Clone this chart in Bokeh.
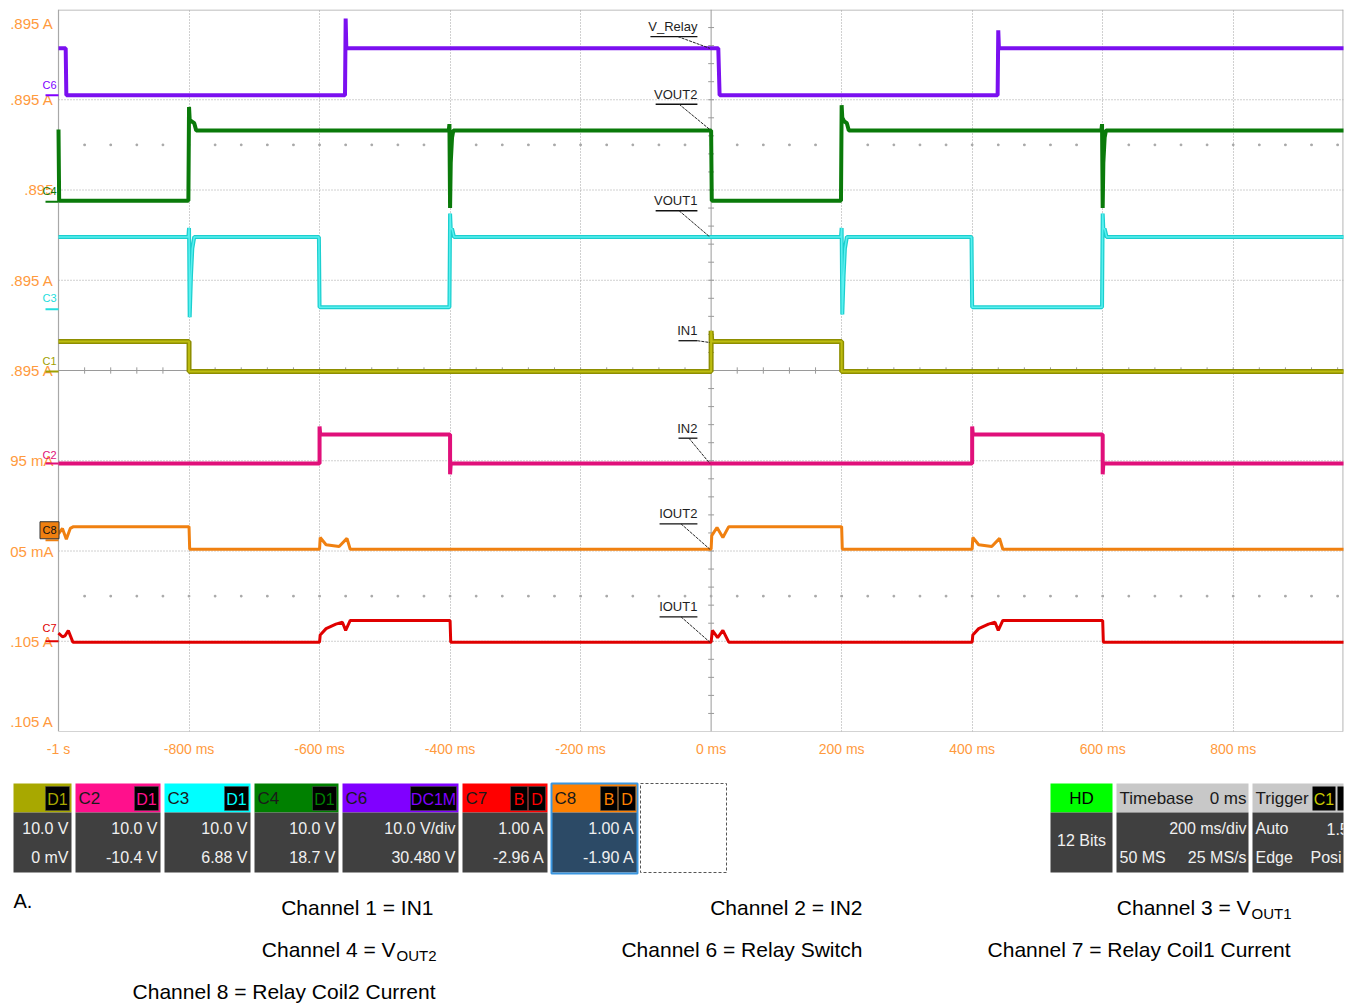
import numpy as np
from bokeh.plotting import figure
from bokeh.models import Range1d, FixedTicker
from bokeh.layouts import column
from bokeh.core.properties import value
from bokeh.embed import file_html
from bokeh.resources import INLINE

SANS = "Liberation Sans"
ORANGE_TXT = "#FF9A3D"

# ---------------- data (time in ms, level in divisions) ----------------
x_ticks = [-1000, -800, -600, -400, -200, 0, 200, 400, 600, 800]
x_tick_labels = ["-1 s", "-800 ms", "-600 ms", "-400 ms", "-200 ms", "0 ms",
                 "200 ms", "400 ms", "600 ms", "800 ms"]
y_ticks = [0, 1, 2, 3, 4, 5, 6, 7, 8]
y_tick_labels = [".105 A", ".105 A", "05 mA", "95 mA", ".895 A", ".895 A", ".895", ".895 A", ".895 A"]

# C6 - V_Relay
c6_t = [-1000, -989, -988, -561, -560, -559, 11, 13, 439, 440, 441, 970]
c6_v = [7.57, 7.57, 7.05, 7.05, 7.90, 7.57, 7.57, 7.05, 7.05, 7.77, 7.57, 7.57]
# C4 - VOUT2
c4_t = [-1000, -999, -801, -800, -799, -796, -792, -789, -402, -401, -400, -399, -397, -395,
        0, 1, 199, 200, 201, 204, 208, 211, 598, 599, 600, 601, 603, 605, 970]
c4_v = [6.67, 5.88, 5.88, 6.92, 6.78, 6.76, 6.74, 6.66, 6.66, 6.73, 5.80, 6.30, 6.58, 6.66,
        6.66, 5.88, 5.88, 6.94, 6.80, 6.76, 6.74, 6.66, 6.66, 6.73, 5.80, 6.30, 6.58, 6.66, 6.66]
# C3 - VOUT1
c3_t = [-1000, -801, -800, -799, -797, -795, -792, -601, -600, -401, -400, -399, -397, -394,
        199, 200, 201, 203, 205, 208, 399, 400, 599, 600, 601, 603, 606, 970]
c3_v = [5.48, 5.48, 5.58, 4.59, 5.05, 5.35, 5.48, 5.48, 4.70, 4.70, 5.74, 5.57, 5.57, 5.48,
        5.48, 5.58, 4.62, 5.05, 5.35, 5.48, 5.48, 4.70, 4.70, 5.74, 5.57, 5.57, 5.48, 5.48]
# C1 - IN1
c1_t = [-1000, -800, -800, 0, 0, 1, 200, 200, 970]
c1_v = [4.32, 4.32, 3.99, 3.99, 4.44, 4.32, 4.32, 3.99, 3.99]
# C2 - IN2
c2_t = [-1000, -600, -600, -599, -400, -400, -399, 400, 400, 401, 600, 600, 601, 970]
c2_v = [2.97, 2.97, 3.38, 3.29, 3.29, 2.85, 2.97, 2.97, 3.38, 3.29, 3.29, 2.85, 2.97, 2.97]
# C8 - IOUT2
c8_t = [-1000, -994, -988, -982, -977, -800, -799, -600, -599, -590, -570, -558, -553,
        0, 1, 9, 18, 27, 200, 201, 400, 401, 410, 430, 442, 447, 970]
c8_v = [2.19, 2.25, 2.13, 2.25, 2.27, 2.27, 2.02, 2.02, 2.15, 2.07, 2.05, 2.14, 2.02,
        2.02, 2.17, 2.26, 2.15, 2.27, 2.27, 2.02, 2.02, 2.15, 2.07, 2.05, 2.14, 2.02, 2.02]
# C7 - IOUT1
c7_t = [-1000, -994, -990, -985, -978, -600, -599, -590, -575, -565, -560, -553, -400, -399,
        0, 2, 10, 18, 27, 400, 401, 410, 425, 435, 440, 447, 600, 601, 970]
c7_v = [1.09, 1.05, 1.06, 1.12, 0.99, 0.99, 1.07, 1.14, 1.19, 1.21, 1.12, 1.23, 1.23, 0.99,
        0.99, 1.12, 1.04, 1.12, 0.99, 0.99, 1.07, 1.14, 1.19, 1.21, 1.12, 1.23, 1.23, 0.99, 0.99]

# trace annotations
ann_text = ["V_Relay", "VOUT2", "VOUT1", "IN1", "IN2", "IOUT2", "IOUT1"]
ann_target = [7.57, 6.67, 5.48, 4.31, 2.97, 2.02, 0.99]

# channel markers on the left
mk_text = ["C6", "C4", "C3", "C1", "C2", "C8", "C7"]
mk_level = [7.16, 5.99, 4.80, 4.10, 3.06, 2.23, 1.15]
mk_line = [7.05, 5.87, 4.68, 3.99, 2.97, 2.12, 1.00]
mk_color = ["#8000FF", "#0A7A0A", "#22DDDD", "#A0A000", "#E0107A", "#F08010", "#E00000"]

# bottom channel panels
pan_name = ["", "C2", "C3", "C4", "C6", "C7", "C8"]
pan_color = ["#A8A800", "#FF108C", "#00FFFF", "#008000", "#8000FF", "#FF0000", "#FF8000"]
pan_badges = [["D1"], ["D1"], ["D1"], ["D1"], ["DC1M"], ["B", "D"], ["B", "D"]]
pan_line1 = ["10.0 V", "10.0 V", "10.0 V", "10.0 V", "10.0 V/div", "1.00 A", "1.00 A"]
pan_line2 = ["0 mV", "-10.4 V", "6.88 V", "18.7 V", "30.480 V", "-2.96 A", "-1.90 A"]

captions = ["Channel 1 = IN1", "Channel 2 = IN2", "Channel 3 = V",
            "Channel 4 = V", "Channel 6 = Relay Switch", "Channel 7 = Relay Coil1 Current",
            "Channel 8 = Relay Coil2 Current"]
caption_subs = ["", "", "OUT1", "OUT2", "", "", ""]

# ---------------- main scope figure ----------------
PX = 0.6525  # px per ms
DIV = 90.25  # px per division
XL = -1000 - 58 / PX   # left edge of canvas area (room for y labels)
XR = 969

p = figure(width=1348, height=770, x_range=Range1d(XL, XR), y_range=Range1d(0, 8),
           y_axis_type=None, output_backend="svg", toolbar_location=None,
           min_border_left=0, min_border_right=5, min_border_top=9, min_border_bottom=39)
p.outline_line_color = None
p.background_fill_color = "white"
p.border_fill_color = "white"

p.xaxis.ticker = FixedTicker(ticks=x_ticks)
p.xaxis.major_label_overrides = dict(zip(x_ticks, x_tick_labels))
p.xaxis.axis_line_color = None
p.xaxis.major_tick_line_color = None
p.xaxis.minor_tick_line_color = None
p.xaxis.major_tick_out = 0
p.xaxis.major_tick_in = 0
p.xaxis.major_label_standoff = 9
p.xaxis.major_label_text_color = ORANGE_TXT
p.xaxis.major_label_text_font = SANS
p.xaxis.major_label_text_font_size = "14px"

grid_x = [t for t in x_ticks if t not in (-1000, 0)]
p.xgrid.ticker = FixedTicker(ticks=grid_x)
p.xgrid.grid_line_color = "#A0A0A0"
p.xgrid.grid_line_dash = "1 2"
grid_y = [1, 2, 3, 5, 6, 7]
p.segment(x0=-1000, y0=grid_y, x1=XR, y1=grid_y, line_color="#A0A0A0", line_dash="1 2",
          line_width=1, level="underlay")

# frame border
BC = "#A8A8A8"
p.segment(x0=[-1000, -1000, -1000, XR - 0.6], y0=[0, 0, 8 - 0.5 / DIV, 0],
          x1=[-1000, XR, XR, XR - 0.6], y1=[8, 0, 8 - 0.5 / DIV, 8],
          line_color=BC, line_width=1.2, level="underlay")

# center cross with ticks
p.segment(x0=[0, -1000], y0=[0, 4], x1=[0, XR], y1=[8, 4], line_color="#9A9A9A",
          line_width=1, level="underlay")
vt = np.arange(0.2, 8, 0.2)
p.segment(x0=-4.5, y0=vt, x1=4.5, y1=vt, line_color="#9A9A9A", line_width=1, level="underlay")
ht = np.arange(-960, 969, 40)
p.segment(x0=ht, y0=4 - 0.035, x1=ht, y1=4 + 0.035, line_color="#9A9A9A", line_width=1, level="underlay")
for yrow in (6.5, 1.5):
    p.scatter(ht, [yrow] * len(ht), size=1.6, marker="square", color="#A8A8A8", level="underlay")

# traces
p.line(c6_t, c6_v, line_color="#7B10F0", line_width=4)
p.line(c4_t, c4_v, line_color="#0A7A0A", line_width=4)
p.line(c3_t, c3_v, line_color="#1CCFCF", line_width=4)
p.line(c3_t, c3_v, line_color="#5AF0F0", line_width=1.5)
p.line(c1_t, c1_v, line_color="#8E8E00", line_width=5)
p.line(c1_t, c1_v, line_color="#BDBD10", line_width=2)
p.line(c2_t, c2_v, line_color="#E0107A", line_width=4)
p.line(c8_t, c8_v, line_color="#F08010", line_width=3)
p.line(c7_t, c7_v, line_color="#E00000", line_width=3)

# trace annotations (label + underline + leader line)
ann_right = [-21.0] * len(ann_text)
ann_left = [-93, -85, -85, -50, -50, -79, -79]
ann_under = [7.70, 6.95, 5.77, 4.33, 3.25, 2.30, 1.27]
ann_ty = [u + 10 / DIV for u in ann_under]
ann_lead = [-51, -49, -49, -21, -34, -46, -46]
p.text(x=ann_right, y=ann_ty, text=ann_text, text_align="right", text_baseline="middle",
       text_font=value(SANS), text_font_size=value("13px"), text_color="#1E1E1E")
p.segment(x0=ann_left, y0=ann_under, x1=ann_right, y1=ann_under, line_color="#111111", line_width=1.3)
p.segment(x0=ann_lead, y0=ann_under, x1=[-2] * len(ann_text), y1=ann_target,
          line_color="#222222", line_width=1, line_dash="3 1")

# y tick labels (left of the grid)
ylab_pos = [10 / DIV if v == 0 else (8 - 14 / DIV if v == 8 else v) for v in y_ticks]
p.text(x=[-1000 - 5 / PX] * len(y_ticks), y=ylab_pos, text=y_tick_labels, text_align="right",
       text_baseline="middle", text_font=value(SANS), text_font_size=value("15px"),
       text_color=ORANGE_TXT)

# channel markers
mk_x = -1000 - 9 / PX
p.segment(x0=-1000 - 13 / PX, y0=mk_line, x1=-1000, y1=mk_line, line_color=mk_color, line_width=2)
i8 = mk_text.index("C8")
p.rect(x=[mk_x], y=[mk_level[i8]], width=19 / PX, height=17 / DIV, fill_color=mk_color[i8],
       line_color="#333333", line_width=1)
p.text(x=[mk_x], y=[mk_level[i8]], text=["C8"], text_align="center", text_baseline="middle",
       text_font=value(SANS), text_font_size=value("11px"), text_color="#111111")
oth = [i for i in range(len(mk_text)) if i != i8]
p.text(x=[mk_x] * len(oth), y=[mk_level[i] for i in oth], text=[mk_text[i] for i in oth],
       text_align="center", text_baseline="middle", text_font=value(SANS),
       text_font_size=value("11px"), text_color=[mk_color[i] for i in oth])

# ---------------- bottom info panel (page-pixel coordinates) ----------------
Y0, Y1 = 770, 1003
q = figure(width=1348, height=Y1 - Y0, x_range=Range1d(0, 1343), y_range=Range1d(Y1, Y0),
           x_axis_type=None, y_axis_type=None, output_backend="svg", toolbar_location=None,
           min_border_left=0, min_border_right=5, min_border_top=0, min_border_bottom=0)
q.outline_line_color = None
q.grid.visible = False
q.background_fill_color = "white"
q.border_fill_color = "white"

TOP, MID, BOT = 783, 812, 872
FS = value("16px")
LT = "#F0F0F0"
pan_x0 = [13, 75, 164, 254, 342, 462, 551]
pan_x1 = [71, 160, 250, 338, 458, 547, 637]
body_col = ["#404040"] * 6 + ["#2C4A66"]
q.quad(left=pan_x0, right=pan_x1, top=TOP, bottom=MID, fill_color=pan_color, line_color=None)
q.quad(left=pan_x0, right=pan_x1, top=MID, bottom=BOT, fill_color=body_col, line_color=None)
q.quad(left=[pan_x0[-1]], right=[pan_x1[-1]], top=[TOP], bottom=[BOT + 1], fill_color=None,
       line_color="#3A96E0", line_width=2)
q.quad(left=[640], right=[726], top=[TOP], bottom=[BOT], fill_color=None,
       line_color="#555555", line_width=1, line_dash="3 2")
q.text(x=[x + 3 for x in pan_x0], y=[798] * 7, text=pan_name, text_align="left",
       text_baseline="middle", text_font=value(SANS), text_font_size=value("17px"),
       text_color="#1A1A1A")
bl, br, bt, bc = [], [], [], []
for x1, badges, col in zip(pan_x1, pan_badges, pan_color):
    r = x1 - 2
    for b in reversed(badges):
        w = max(17, 11 * len(b) + 2)
        bl.append(r - w); br.append(r); bt.append(b); bc.append(col)
        r -= w + 1
q.quad(left=bl, right=br, top=786, bottom=810, fill_color="#000000", line_color="#555555",
       line_width=0.5)
q.text(x=[(a + b) / 2 for a, b in zip(bl, br)], y=[799] * len(bl), text=bt,
       text_align="center", text_baseline="middle", text_font=value(SANS),
       text_font_size=FS, text_color=bc)
q.text(x=[x - 3 for x in pan_x1], y=[828] * 7, text=pan_line1, text_align="right",
       text_baseline="middle", text_font=value(SANS), text_font_size=FS, text_color=LT)
q.text(x=[x - 3 for x in pan_x1], y=[857] * 7, text=pan_line2, text_align="right",
       text_baseline="middle", text_font=value(SANS), text_font_size=FS, text_color=LT)

# right-hand panels: HD, Timebase, Trigger
r_x0 = [1050, 1116, 1252]
r_x1 = [1112, 1248, 1370]
q.quad(left=r_x0, right=r_x1, top=TOP, bottom=MID, fill_color=["#00FF00", "#C8C8C8", "#C8C8C8"],
       line_color=None)
q.quad(left=r_x0, right=r_x1, top=MID, bottom=BOT, fill_color="#404040", line_color=None)
q.text(x=[1081], y=[798], text=["HD"], text_align="center", text_baseline="middle",
       text_font=value(SANS), text_font_size=value("17px"), text_color="#000000")
q.text(x=[1119, 1255], y=[798, 798], text=["Timebase", "Trigger"], text_align="left",
       text_baseline="middle", text_font=value(SANS), text_font_size=value("17px"),
       text_color="#1A1A1A")
q.text(x=[1246], y=[798], text=["0 ms"], text_align="right", text_baseline="middle",
       text_font=value(SANS), text_font_size=value("17px"), text_color="#1A1A1A")
q.quad(left=[1312, 1337], right=[1335, 1360], top=786, bottom=810, fill_color="#000000",
       line_color=None)
q.text(x=[1323.5], y=[799], text=["C1"], text_align="center", text_baseline="middle",
       text_font=value(SANS), text_font_size=FS, text_color="#C8C800")
q.text(x=[1081], y=[840], text=["12 Bits"], text_align="center", text_baseline="middle",
       text_font=value(SANS), text_font_size=FS, text_color=LT)
q.text(x=[1246, 1246], y=[828, 857], text=["200 ms/div", "25 MS/s"], text_align="right",
       text_baseline="middle", text_font=value(SANS), text_font_size=FS, text_color=LT)
q.text(x=[1119, 1255, 1255, 1326, 1310], y=[857, 828, 857, 828, 857],
       text=["50 MS", "Auto", "Edge", "1.5", "Posi"], text_align="left",
       text_baseline="middle", text_font=value(SANS), text_font_size=FS, text_color=LT)

# captions
cap_right = [433, 862, 1290, 435, 862, 1290, 435]
cap_y = [907, 907, 907, 949, 949, 949, 991]
SUBW = 40
main_x = [r - (SUBW if s else 0) for r, s in zip(cap_right, caption_subs)]
q.text(x=[13], y=[900], text=["A."], text_align="left", text_baseline="middle",
       text_font=value(SANS), text_font_size=value("20px"), text_color="#000000")
q.text(x=main_x, y=cap_y, text=captions, text_align="right", text_baseline="middle",
       text_font=value(SANS), text_font_size=value("21px"), text_color="#000000")
sub_idx = [i for i, s in enumerate(caption_subs) if s]
q.text(x=[main_x[i] + 1 for i in sub_idx], y=[cap_y[i] + 6 for i in sub_idx],
       text=[caption_subs[i] for i in sub_idx], text_align="left", text_baseline="middle",
       text_font=value(SANS), text_font_size=value("15px"), text_color="#000000")

layout = column(p, q, spacing=0)
open("out.html", "w").write(file_html(layout, INLINE))
